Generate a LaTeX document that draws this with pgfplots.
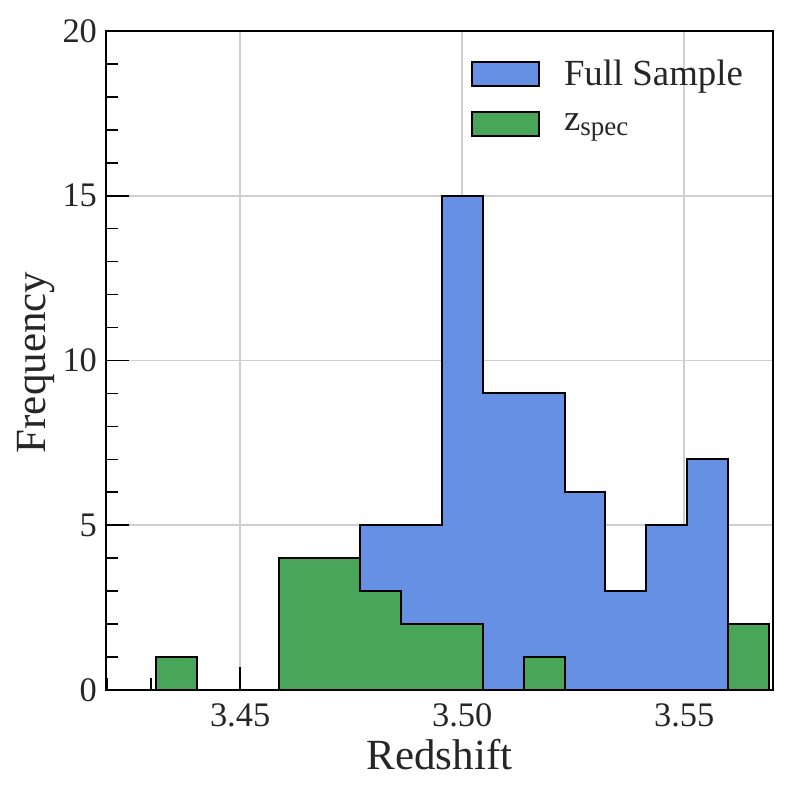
\documentclass[border=0pt]{standalone}
\usepackage{fontspec}
\setmainfont{Liberation Serif}
\usepackage{pgfplots}
\pgfplotsset{compat=1.18}
\definecolor{txt}{HTML}{262626}
\definecolor{fullblue}{HTML}{6590E4}
\definecolor{specgreen}{HTML}{48A55A}
\definecolor{gridgray}{HTML}{CFCFCF}
\begin{document}
\begin{tikzpicture}[x=1pt,y=1pt]
\useasboundingbox (-53,-50) rectangle (342,345);
\begin{axis}[
    name=main,
    at={(0,0)},
    anchor=south west,
    scale only axis,
    width=333.5pt,
    height=329.5pt,
    xmin=3.4198, xmax=3.57,
    ymin=0, ymax=20,
    axis line style={black,line width=1pt},
    xtick pos=bottom,
    ytick pos=left,
    enlargelimits=false,
    xtick={3.45,3.50,3.55},
    minor xtick={3.42,3.43,3.44,3.46,3.47,3.48,3.49,3.51,3.52,3.53,3.54,3.56},
    ytick={0,5,10,15,20},
    minor y tick num=4,
    tick align=inside,
    major tick length=11.5pt,
    minor tick length=6pt,
    every tick/.style={black,line width=0.8pt},
    grid=major,
    grid style={gridgray,line width=0.9pt},
    tick label style={txt,font=\fontsize{17.2}{20}\selectfont},
    /pgf/number format/assume math mode=true,
    x tick label style={/pgf/number format/fixed,/pgf/number format/fixed zerofill,/pgf/number format/precision=2,yshift=-3.5pt},
    y tick label style={xshift=-1pt},
    xlabel={Redshift},
    ylabel={Frequency},
    label style={txt,font=\fontsize{21.5}{25}\selectfont},
    xlabel style={at={(axis description cs:0.5,0)},anchor=center,yshift=-32.5pt},
    ylabel style={at={(axis description cs:0,0.5)},anchor=center,rotate=0,yshift=35pt,xshift=-1pt},
    legend cell align=left,
    legend style={draw=none,fill=none,at={(182.5pt,316pt)},anchor=north west,inner sep=0pt,outer sep=0pt,
        font=\fontsize{18.4}{20}\selectfont,text=txt,row sep=10pt,
        nodes={inner sep=1pt}},
    legend image code/.code={\draw[#1,line width=1pt] (0pt,-6pt) rectangle (33.5pt,6pt);},
]
\addplot[const plot mark left,draw=black,line width=1pt,fill=fullblue] coordinates {
    (3.43115,1) (3.44034,0) (3.44953,0) (3.45872,4) (3.46791,4) (3.47710,5) (3.48629,5)
    (3.49548,15) (3.50467,9) (3.51386,9) (3.52305,6) (3.53224,3) (3.54143,5) (3.55062,7)
    (3.55981,2) (3.56900,2)
} \closedcycle;
\addlegendentry{\hspace{11pt}Full Sample}
\addplot[const plot mark left,draw=black,line width=1pt,fill=specgreen] coordinates {
    (3.43115,1) (3.44034,0) (3.44953,0) (3.45872,4) (3.46791,4) (3.47710,3) (3.48629,2)
    (3.49548,2) (3.50467,0) (3.51386,1) (3.52305,0) (3.53224,0) (3.54143,0) (3.55062,0)
    (3.55981,2) (3.56900,2)
} \closedcycle;
\addlegendentry{\hspace{11pt}z\raisebox{-2.5pt}{\fontsize{13.5}{14}\selectfont spec}}
\end{axis}
\end{tikzpicture}
\end{document}
